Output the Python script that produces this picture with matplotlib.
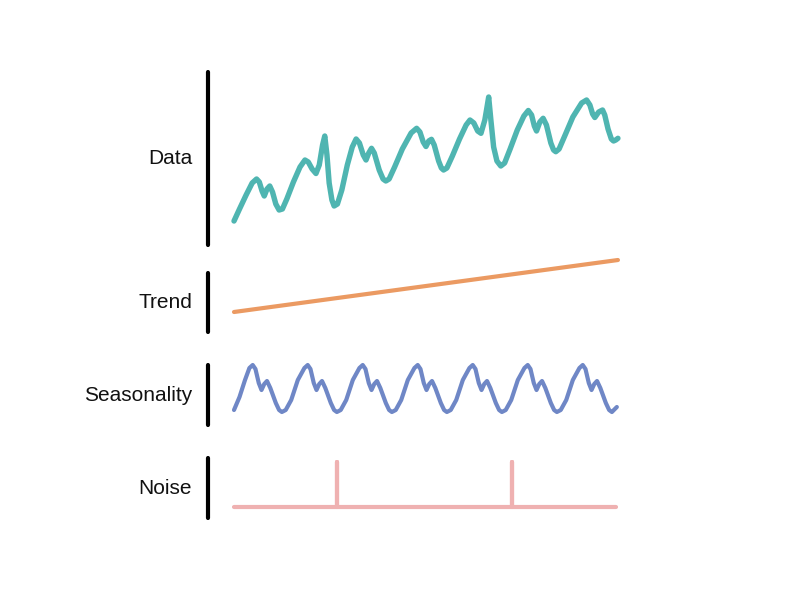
import matplotlib
matplotlib.use("Agg")
import matplotlib.pyplot as plt

plt.rcParams['font.family'] = ['Liberation Sans', 'DejaVu Sans']

# time axis in arbitrary units (0..70), values in arbitrary units per panel
data_t = [0, 1.0, 2.2, 3.3, 4.1, 4.6, 5.1, 5.5, 6.0, 6.5, 7.0, 7.6, 8.2, 8.8, 9.6,
          10.8, 12.0, 12.9, 13.5, 14.2, 14.9, 15.5, 16.1, 16.5, 16.9, 17.3, 17.8,
          18.2, 18.8, 19.6, 20.6, 21.5, 22.2, 22.8, 23.5, 24.0, 24.5, 25.0, 25.5,
          26.4, 27.1, 27.6, 28.2, 29.2, 30.6, 32.2, 33.2, 33.8, 34.4, 34.9, 35.4,
          35.9, 36.4, 37.2, 37.7, 38.1, 38.7, 39.7, 41.0, 42.2, 42.9, 43.6, 44.3,
          44.9, 45.6, 46.0, 46.3, 46.7, 47.2, 47.8, 48.5, 49.2, 50.2, 51.5, 52.7,
          53.5, 54.1, 54.6, 55.0, 55.6, 56.2, 56.8, 57.6, 58.1, 58.5, 59.1, 60.2,
          61.6, 63.2, 64.1, 64.7, 65.2, 65.6, 66.3, 67.0, 67.4, 68.0, 68.6, 69.0,
          69.4, 69.8]
data_v = [24, 36, 50, 62, 66, 63, 54, 49, 56, 59, 53, 41, 35, 36, 46,
          63, 78, 85, 83, 76, 71.5, 80, 100, 109, 90, 62, 45,
          39, 41, 55, 80, 98, 106, 102, 90, 85, 92, 96.7, 92,
          75, 66, 64, 66, 78, 96, 112, 116.7, 113, 103, 98.5, 104,
          105.7, 100, 84, 77, 75, 77, 89, 106, 120, 125, 122, 114,
          111.7, 125, 138, 148, 125, 98, 84, 79, 82, 96, 115, 129,
          134.5, 130, 119, 114, 123, 126.7, 120, 102, 95, 93.3, 96, 110,
          128, 142, 145, 140, 131, 127.5, 133, 135, 130, 116, 106, 104,
          105, 106.7]

trend_t = [0, 69.8]
trend_v = [20, 72]

season_t = [0, 1.0, 2.0, 2.8, 3.4, 3.9, 4.5, 5.0, 5.5, 6.0, 6.6, 7.6, 8.2, 8.7, 9.4, 10.4, 11.6,
            12.8, 13.4, 13.9, 14.5, 15.0, 15.5, 16.0, 16.6, 17.6, 18.2, 18.7, 19.4, 20.4, 21.6,
            22.8, 23.4, 23.9, 24.5, 25.0, 25.5, 26.0, 26.6, 27.6, 28.2, 28.7, 29.4, 30.4, 31.6,
            32.8, 33.4, 33.9, 34.5, 35.0, 35.5, 36.0, 36.6, 37.6, 38.2, 38.7, 39.4, 40.4, 41.6,
            42.8, 43.4, 43.9, 44.5, 45.0, 45.5, 46.0, 46.6, 47.6, 48.2, 48.7, 49.4, 50.4, 51.6,
            52.8, 53.4, 53.9, 54.5, 55.0, 55.5, 56.0, 56.6, 57.6, 58.2, 58.7, 59.4, 60.4, 61.6,
            62.8, 63.4, 63.9, 64.5, 65.0, 65.5, 66.0, 66.6, 67.6, 68.2, 68.7, 69.6]
season_v = [15, 28, 45, 57, 60, 56, 42, 35, 41, 44, 37, 22, 15, 13, 15, 25, 45,
            57, 60, 56, 42, 35, 41, 44, 37, 22, 15, 13, 15, 25, 45,
            57, 60, 56, 42, 35, 41, 44, 37, 22, 15, 13, 15, 25, 45,
            57, 60, 56, 42, 35, 41, 44, 37, 22, 15, 13, 15, 25, 45,
            57, 60, 56, 42, 35, 41, 44, 37, 22, 15, 13, 15, 25, 45,
            57, 60, 56, 42, 35, 41, 44, 37, 22, 15, 13, 15, 25, 45,
            57, 60, 56, 42, 35, 41, 44, 37, 22, 15, 13, 18]

noise_t = [0, 18.7, 18.7, 18.7, 50.5, 50.5, 50.5, 69.5]
noise_v = [11, 11, 56, 11, 11, 56, 11, 11]

labels = ["Data", "Trend", "Seasonality", "Noise"]
colors = ["#4fb5b1", "#eb9a62", "#6f87c6", "#efb1b1"]
widths = [3.9, 3.0, 3.0, 3.0]
series = [(data_t, data_v), (trend_t, trend_v), (season_t, season_v), (noise_t, noise_v)]

# panel placement (left, bottom, width, height) and y ranges
boxes = [(0.2643, 0.5896, 0.5299, 0.2898),
         (0.2643, 0.4439, 0.5299, 0.0988),
         (0.2643, 0.2881, 0.5299, 0.1005),
         (0.2643, 0.1323, 0.5299, 0.1005)]
ylims = [(0, 173), (0, 59), (0, 60), (0, 60)]

fig = plt.figure(figsize=(7.87, 5.97), dpi=100)
fig.patch.set_facecolor("white")

for i in range(4):
    ax = fig.add_axes(boxes[i])
    t, v = series[i]
    ax.plot(t, v, color=colors[i], lw=widths[i], solid_capstyle='round',
            solid_joinstyle='round', clip_on=False)
    ax.set_xlim(-4.727, 71.09)
    ax.set_ylim(*ylims[i])
    for s in ["top", "right", "bottom"]:
        ax.spines[s].set_visible(False)
    ax.spines["left"].set_linewidth(3.0)
    ax.spines["left"].set_color("black")
    ax.spines["left"].set_capstyle("round")
    ax.set_xticks([])
    ax.set_yticks([])
    ax.patch.set_alpha(0)
    ax.text(-0.038, 0.5, labels[i], transform=ax.transAxes, ha='right', va='center',
            fontsize=15, color="#111111")

fig.savefig("out.png", dpi=100, facecolor="white")
